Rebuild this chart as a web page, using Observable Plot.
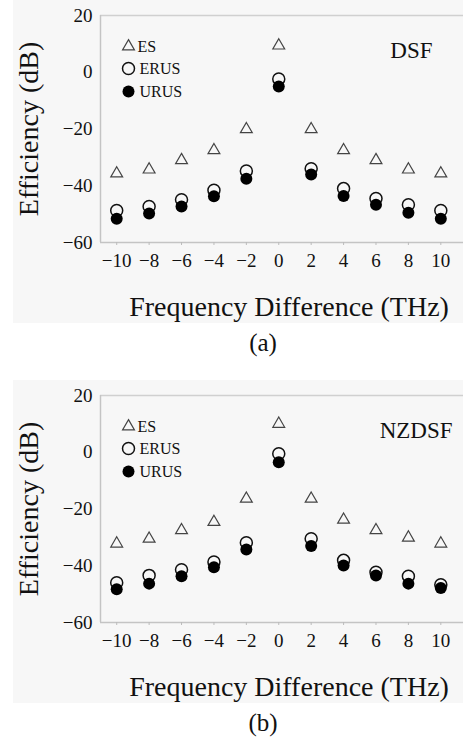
<!DOCTYPE html>
<html>
<head>
<meta charset="utf-8">
<script src="https://cdn.jsdelivr.net/npm/d3@7"></script>
<script src="https://cdn.jsdelivr.net/npm/@observablehq/plot@0.6"></script>
<style>
  html, body { margin: 0; padding: 0; background: #ffffff; }
  .panel { position: relative; width: 463px; height: 380px; }
  .chart { width: 463px; height: 323px; background: linear-gradient(to right, #ffffff 13px, #f7f7f7 13px); }
  .caption { position: absolute; left: 263px; top: 323px; transform: translateX(-50%);
             font-family: "Liberation Serif", "Times New Roman", serif; font-size: 25px; color: #111;
             line-height: 40px; }
  .ylabel { position: absolute; left: 29px; top: 129px; transform: translate(-50%, -50%) rotate(-90deg);
            white-space: nowrap; font-family: "Liberation Serif", "Times New Roman", serif;
            font-size: 28px; color: #111; line-height: 30px; }
</style>
</head>
<body>
<div id="root"></div>
<script>
// ---- data ----
const freq = [-10, -8, -6, -4, -2, 0, 2, 4, 6, 8, 10];
const xTicks = [-10, -8, -6, -4, -2, 0, 2, 4, 6, 8, 10];
const yTicks = [20, 0, -20, -40, -60];
const seriesNames = ["ES", "ERUS", "URUS"];

// Panel (a) DSF
const esA   = [-35.7, -34.3, -31.0, -27.5, -20.1, 9.4, -20.1, -27.5, -31.0, -34.3, -35.7];
const erusA = [-48.7, -47.3, -44.9, -41.6, -34.8, -2.4, -34.0, -41.0, -44.5, -46.7, -48.7];
const urusA = [-51.6, -49.8, -47.3, -43.7, -37.5, -5.0, -36.0, -43.6, -46.7, -49.5, -51.6];

// Panel (b) NZDSF
const esB   = [-32.2, -30.5, -27.5, -24.6, -16.4, 10.0, -16.4, -23.8, -27.5, -30.1, -32.2];
const erusB = [-46.0, -43.4, -41.4, -38.7, -31.9, -0.5, -30.5, -38.1, -42.3, -43.7, -46.7];
const urusB = [-48.3, -46.3, -43.7, -40.5, -34.3, -3.5, -33.0, -39.9, -43.4, -46.3, -47.8];

const panels = [
  {name: "DSF", caption: "(a)", es: esA, erus: erusA, urus: urusA, nameDx: -31},
  {name: "NZDSF", caption: "(b)", es: esB, erus: erusB, urus: urusB, nameDx: -11}
];

const fmt = d => d < 0 ? "\u2212" + Math.abs(d) : String(d);
const serif = "'Liberation Serif', 'Times New Roman', serif";

function makePanel(p) {
  const rows = (vals) => freq.map((f, i) => ({f, v: vals[i]}));
  const legendStyles = [
    {symbol: "triangle", r: 4.4, stroke: "#444", fill: "none", strokeWidth: 1.2, dy: 31, tdx: 37},
    {symbol: "circle", r: 6, stroke: "#111", fill: "none", strokeWidth: 1.5, dy: 53, tdx: 39},
    {symbol: "circle", r: 6, stroke: "none", fill: "#000", strokeWidth: 0, dy: 76, tdx: 39}
  ];
  const legendMarks = seriesNames.flatMap((s, i) => {
    const st = legendStyles[i];
    return [
      Plot.dot([s], {frameAnchor: "top-left", dx: 28, dy: st.dy, symbol: st.symbol, r: st.r,
                     stroke: st.stroke, fill: st.fill, strokeWidth: st.strokeWidth}),
      Plot.text([s], {frameAnchor: "top-left", dx: st.tdx, dy: st.dy, text: d => d,
                      textAnchor: "start", lineAnchor: "middle", fontSize: 16, fill: "#111"})
    ];
  });

  return Plot.plot({
    width: 463, height: 323,
    marginTop: 15, marginLeft: 100, marginRight: 0, marginBottom: 81,
    style: {fontFamily: serif, fontSize: "19px", color: "#111", background: "transparent", overflow: "visible"},
    x: {domain: [-11, 11.4]},
    y: {domain: [-60, 20]},
    marks: [
      Plot.ruleY([20], {stroke: "#d0d0d0", strokeWidth: 1.5}),
      Plot.ruleY([-60], {stroke: "#c4c4c4", strokeWidth: 1.5}),
      Plot.ruleX([-11], {stroke: "#c4c4c4", strokeWidth: 1.5}),
      Plot.axisX({ticks: xTicks, tickFormat: fmt, tickSize: 3, tickPadding: 8, stroke: "#bbb", fill: "#111", label: null}),
      Plot.axisY({ticks: yTicks, tickFormat: fmt, tickSize: 0, tickPadding: 8, fill: "#111", label: null}),
      Plot.text(["Frequency Difference (THz)"], {frameAnchor: "bottom", dx: 7, dy: 65, fontSize: 28, fill: "#111", lineAnchor: "middle"}),
      Plot.text([p.name], {frameAnchor: "top-right", dx: p.nameDx, dy: 35, textAnchor: "end", lineAnchor: "middle", fontSize: 23, fill: "#111"}),
      ...legendMarks,
      Plot.dot(rows(p.es), {x: "f", y: "v", symbol: "triangle", r: 4.4, stroke: "#444", fill: "none", strokeWidth: 1.2}),
      Plot.dot(rows(p.erus), {x: "f", y: "v", symbol: "circle", r: 6, stroke: "#111", fill: "none", strokeWidth: 1.5}),
      Plot.dot(rows(p.urus), {x: "f", y: "v", symbol: "circle", r: 6, fill: "#000", stroke: "none"})
    ]
  });
}

const root = document.getElementById("root");
for (const p of panels) {
  const panel = document.createElement("div");
  panel.className = "panel";
  const chart = document.createElement("div");
  chart.className = "chart";
  chart.appendChild(makePanel(p));
  panel.appendChild(chart);
  const yl = document.createElement("div");
  yl.className = "ylabel";
  yl.textContent = "Efficiency (dB)";
  panel.appendChild(yl);
  const cap = document.createElement("div");
  cap.className = "caption";
  cap.textContent = p.caption;
  panel.appendChild(cap);
  root.appendChild(panel);
}
</script>
</body>
</html>
